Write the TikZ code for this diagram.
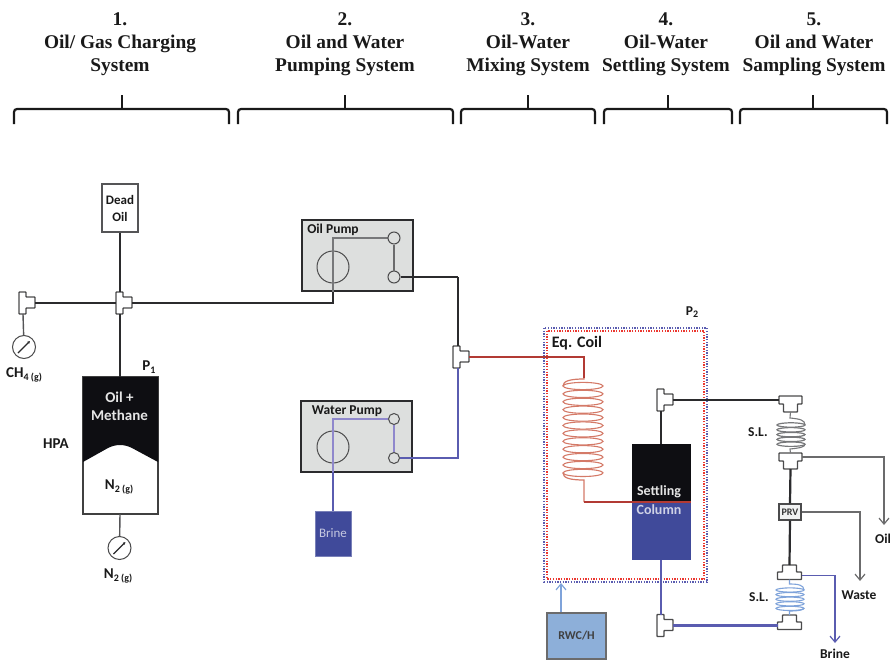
\documentclass[tikz,border=0pt]{standalone}
\usepackage{fontspec}
\setmainfont{Carlito}
\newfontfamily\ttlfont{Liberation Serif}
\usetikzlibrary{arrows.meta}
\definecolor{pipeK}{HTML}{2B2B2D}
\definecolor{pipeG}{HTML}{77787A}
\definecolor{pipeB}{HTML}{5A5CB0}
\definecolor{pipeL}{HTML}{8F88CC}
\definecolor{pipeR}{HTML}{B23A34}
\definecolor{coilR}{HTML}{D47A68}
\definecolor{coilB}{HTML}{7FA3DA}
\definecolor{fillB}{HTML}{404A9A}
\definecolor{fillK}{HTML}{0E0E12}
\definecolor{fillP}{HTML}{DDDFDE}
\definecolor{fillH}{HTML}{8DAFD9}
\newcommand{\lowtxt}[1]{\raisebox{-2.5pt}{\fontsize{10}{10}\selectfont #1}}
\newcommand{\lblfont}[1]{\fontsize{#1}{#1}\selectfont\bfseries}
\tikzset{
  x=1pt,y=-1pt,
  lab/.style={text=black!90,align=center,inner sep=0pt},
  ttl/.style={font=\fontsize{19.4}{23.2}\selectfont\ttlfont\bfseries,text=black!90,align=center,inner sep=0pt},
  brace/.style={line width=2.2pt,rounded corners=3pt,draw=black!90},
  pipe/.style={line width=2.2pt,draw=pipeK},
  thin pipe/.style={line width=1.4pt,draw=pipeG},
  bluepipe/.style={line width=2.2pt,draw=pipeB},
  redpipe/.style={line width=2.2pt,draw=pipeR},
  tee/.style={line width=1.3pt,draw=pipeK!85,fill=white,rounded corners=0.6pt},
  pumpbox/.style={draw=pipeK,line width=2.1pt,fill=fillP,minimum width=111pt,minimum height=71pt,inner sep=0pt},
  smallc/.style={circle,draw=pipeK!85,line width=1pt,fill=fillP,minimum size=11pt,inner sep=0pt},
  motor/.style={circle,draw=pipeK!85,line width=1pt,minimum size=32pt,inner sep=0pt},
  gauge/.style={circle,draw=pipeK!85,line width=1pt,fill=white,minimum size=23pt,inner sep=0pt},
  needle/.style={line width=1.4pt,draw=pipeK,-{Latex[length=2.5pt,width=3pt]}},
  openarrow/.style={-{Straight Barb[length=6pt,width=10pt,line width=1.2pt]}},
}
% tee with the branch to the right
\newcommand{\teeR}[3]{%
  \draw[tee] (#2-4,#3-11)--(#2+3,#3-11)--(#2+3,#3-6)--(#2+12,#3-6)--(#2+12,#3+5)--(#2+3,#3+5)--(#2+3,#3+11)--(#2-4,#3+11)--cycle;
  \coordinate (#1n) at (#2,#3-11);\coordinate (#1s) at (#2,#3+11);\coordinate (#1e) at (#2+12,#3);\coordinate (#1w) at (#2-4,#3);}
% tee with the bar on top
\newcommand{\teeD}[3]{%
  \draw[tee] (#2-11.5,#3)--(#2+11.5,#3)--(#2+11.5,#3+8)--(#2+7,#3+8)--(#2+7,#3+16)--(#2-7,#3+16)--(#2-7,#3+8)--(#2-11.5,#3+8)--cycle;
  \coordinate (#1w) at (#2-11.5,#3+4);\coordinate (#1e) at (#2+11.5,#3+4);\coordinate (#1s) at (#2,#3+16);\coordinate (#1n) at (#2,#3);}
% tee with the bar below
\newcommand{\teeU}[3]{%
  \draw[tee] (#2-7,#3)--(#2+7,#3)--(#2+7,#3+7)--(#2+12,#3+7)--(#2+12,#3+14.5)--(#2-12,#3+14.5)--(#2-12,#3+7)--(#2-7,#3+7)--cycle;
  \coordinate (#1w) at (#2-12,#3+10.5);\coordinate (#1e) at (#2+12,#3+10.5);\coordinate (#1n) at (#2,#3);\coordinate (#1s) at (#2,#3+14.5);}
\begin{document}
\begin{tikzpicture}
\useasboundingbox (0,0) rectangle (892,661);
% headings
\node[ttl] (h1) at (120,44) {1.\\Oil/ Gas Charging\\System};
\node[ttl] (h2) at (345,44) {2.\\Oil and Water\\Pumping System};
\node[ttl] (h3) at (528,44) {3.\\Oil-Water\\Mixing System};
\node[ttl] (h4) at (666,44) {4.\\Oil-Water\\Settling System};
\node[ttl] (h5) at (814,44) {5.\\Oil and Water\\Sampling System};
% braces
\foreach \a/\b/\c in {14/229/122,238/453/345,461/595/528,604/732/668,740/887/813}{
  \draw[brace] (\a,124)--(\a,109)--(\b,109)--(\b,124);
  \draw[line width=2.2pt,draw=black!90] (\c,109)--(\c,95);
}
% charging system
\node[draw=pipeK!80,line width=1.3pt,fill=white,minimum width=36pt,minimum height=48pt,inner sep=0pt,lab,font=\fontsize{13}{17}\selectfont\bfseries] (dead) at (120,208) {Dead\\Oil};
\coordinate (hpatop) at (120,377);
\coordinate (hpabot) at (120,514);
\draw[draw=black!75,line width=1.3pt,fill=white] (83,377) rectangle (158,514);
\fill[fillK] (83,377)--(158,377)--(158,462)--(132,448) .. controls (124,444) and (116,444) .. (108,448)--(83,462)--cycle;
\node[lab,text=black!10,font=\fontsize{15}{18}\selectfont\bfseries] (oilm) at (119.5,406) {Oil +\\Methane};
\node[lab,font=\lblfont{15}] (n2in) at (119,487) {N\lowtxt{2 (g)}};
\node[lab,font=\lblfont{15}] (hpa) at (56,444) {HPA};
\node[lab,font=\lblfont{15}] (p1) at (149,367) {P\lowtxt{1}};
\node[gauge] (g2) at (119.5,548) {};
\draw[needle] (113.5,554)--(125.5,542);
\node[gauge] (g1) at (24,347) {};
\draw[needle] (18,353)--(30,341);
\node[lab,font=\lblfont{15}] (ch4) at (24,375) {CH\lowtxt{4 (g)}};
\node[lab,font=\lblfont{15}] (n2out) at (118,576) {N\lowtxt{2 (g)}};
\teeR{ta}{23}{303}
\teeR{tb}{120}{303}
\draw[line width=1.4pt,draw=pipeK!80] (tas)--(g1);
\draw[pipe] (dead)--(tbn);
\draw[pipe] (tae)--(tbw);
\draw[pipe] (tbs)--(hpatop);
\draw[line width=1.4pt,draw=pipeK!80] (hpabot)--(g2);
% pumps
\node[pumpbox] (oilp) at (357.5,255.5) {};
\node[lab,font=\lblfont{13.5}] (oill) at (333,230) {Oil Pump};
\node[motor] (om) at (333,267) {};
\node[pumpbox] (watp) at (356.5,436.5) {};
\node[lab,font=\lblfont{13.5}] (watl) at (347,411) {Water Pump};
\node[motor] (wm) at (333,447) {};
\coordinate (oc) at (333,303);
\coordinate (oj) at (333,238);
\coordinate (wj) at (333,419);
\coordinate (wb) at (333,472);
\coordinate (oo) at (458,277);
\coordinate (wo) at (458,458);
\draw[pipe] (tbe)--(oc)--(oilp.south-|oc);
\draw[thin pipe] (oilp.south-|oc)--(oj)--(388,238);
\node[smallc,minimum size=12pt] (s1) at (394,238) {};
\node[smallc,minimum size=12pt] (s2) at (394,277) {};
\draw[line width=1.3pt,draw=pipeK!70] (s1)--(s2);
\node[smallc] (s3) at (394,419) {};
\node[smallc] (s4) at (394,458) {};
\draw[line width=1.5pt,draw=pipeL] (s3)--(s4);
\draw[line width=1.3pt,draw=pipeL] (wb)--(wj)--(s3);
\node[draw=fillB!70,line width=0.5pt,fill=fillB,text=fillB!30,minimum width=36pt,minimum height=45pt,inner sep=0pt,font=\fontsize{13}{14}\selectfont] (brine) at (333,533.5) {Brine};
\draw[bluepipe] (brine.north)--(wb);
\draw[pipe] (s2)--(oo);
\teeR{tc}{457}{357}
\draw[pipe] (oo)--(oo|-tcn);
\draw[bluepipe] (s4)--(wo)--(wo|-tcs);
% equilibration box
\draw[draw=pipeB,line width=1.3pt,dash pattern=on 1.3pt off 1.4pt] (544,328) rectangle (707,582);
\draw[draw=red!55!coilR,line width=1.3pt,dash pattern=on 1.3pt off 1.4pt] (547,331) rectangle (704,579);
\node[lab,font=\lblfont{16}] (eq) at (577,343) {Eq. Coil};
\node[lab,font=\lblfont{13.5}] (p2) at (692,312) {P\lowtxt{2}};
% coil
\coordinate (ci) at (584,378);
\coordinate (co) at (584,480);
\coordinate (cj) at (584,502);
\foreach \i in {0,...,11}{
  \draw[draw=coilR,line width=1.1pt] (583,{386+\i*7.9}) ellipse [x radius=20,y radius=3.6];
}
\draw[draw=coilR,line width=1.2pt] (ci)--(584,379) .. controls (570,379) and (563,381) .. (563,386);
\draw[draw=coilR,line width=1.2pt] (563,473) .. controls (563,478) and (570,480) .. (co)--(cj);
\draw[redpipe] (tce)--(tce-|ci)--(ci);
% settling column
\fill[fillK] (632,444) rectangle (691,502);
\fill[fillB] (632,502) rectangle (691,560);
\node[lab,text=black!10,font=\lblfont{14}] (sett) at (659,492) {Settling};
\node[lab,text=fillB!25,font=\lblfont{14}] (colm) at (659,510) {Column};
\coordinate (ctop) at (661,444);
\coordinate (cbot) at (661,560);
\coordinate (cright) at (691,502);
\draw[redpipe] (cj)--(cright);
\teeR{td}{661}{400}
\teeR{te}{661}{625.5}
\draw[pipe] (ctop)--(tds);
\draw[bluepipe] (cbot)--(ten);
% RWC/H
\node[draw=pipeK!70,line width=1.7pt,fill=fillH,minimum width=59pt,minimum height=46pt,inner sep=0pt,font=\lblfont{12},text=black!75] (rwc) at (576.5,636) {RWC/H};
\coordinate (rwcin) at (561,583);
\draw[draw=coilB,line width=1.3pt,openarrow] (rwc.north-|rwcin)--(rwcin);
% sampling
\teeD{tf}{790.5}{396}
\teeD{tg}{790.5}{453}
\teeU{th}{789.5}{565}
\teeU{ti}{789.5}{615}
\node[draw=pipeK!85,line width=1.3pt,fill=fillP!40,minimum width=22pt,minimum height=16pt,inner sep=0pt,font=\lblfont{10},text=black!80] (prv) at (790,512) {PRV};
\draw[pipe] (tde)--(tfw);
\draw[pipe] (tgs)--(prv.north);
\draw[pipe] (prv.south)--(thn);
\draw[bluepipe] (tee)--(tiw);
% sample loops
\foreach \i in {0,...,4}{
  \draw[draw=pipeG,line width=1.2pt] (791,{425+\i*4.8}) ellipse [x radius=14,y radius=2.2];
  \draw[draw=coilB,line width=1.1pt] (790,{590+\i*4.6}) ellipse [x radius=14,y radius=2.1];
}
\draw[draw=pipeG,line width=1.1pt] (tfs)--(790,418) .. controls (800,419) and (805,420) .. (805,425);
\draw[draw=pipeG,line width=1.1pt] (805,444) .. controls (805,447) and (800,448) .. (790,449)--(tgn);
\draw[draw=coilB,line width=1.1pt] (ths)--(789.5,584) .. controls (798,584) and (804,585) .. (804,590);
\draw[draw=coilB,line width=1.1pt] (804,608) .. controls (804,610) and (798,611) .. (789.5,611)--(tin);
\coordinate (oilend) at (884,525);
\coordinate (wasteend) at (860,581);
\coordinate (brend) at (835,643);
\draw[draw=pipeK!70,line width=1.3pt,openarrow] (tge)--(tge-|oilend)--(oilend);
\draw[draw=pipeK!70,line width=1.3pt,openarrow] (prv.east)--(prv.east-|wasteend)--(wasteend);
\draw[draw=pipeB,line width=1.3pt,openarrow] (the)--(the-|brend)--(brend);
\node[lab,font=\lblfont{13.5}] (sl1) at (758,432) {S.L.};
\node[lab,font=\lblfont{13.5}] (sl2) at (759,597) {S.L.};
\node[lab,anchor=west,font=\lblfont{13.5}] (oilt) at (875,539) {Oil};
\node[lab,font=\lblfont{13.5}] (wastet) at (859,595) {Waste};
\node[lab,font=\lblfont{13.5}] (brinet) at (835,654) {Brine};
\end{tikzpicture}
\end{document}
